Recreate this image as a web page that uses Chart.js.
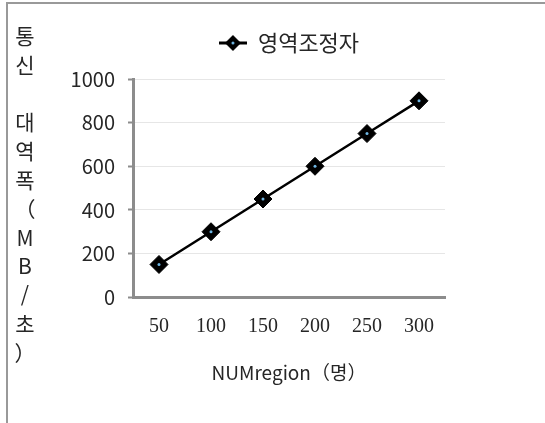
<!DOCTYPE html>
<html lang="ko">
<head>
<meta charset="utf-8">
<script src="https://cdn.jsdelivr.net/npm/chart.js@4.4.1/dist/chart.umd.min.js"></script>
<style>
  html, body { margin: 0; padding: 0; background: #fff; }
  #wrap { position: relative; width: 545px; height: 423px; }
  #frame {
    position: absolute; left: 6px; top: 2px; right: 0; bottom: 0;
    border-top: 2px solid #999; border-left: 2px solid #999;
    pointer-events: none;
  }
</style>
</head>
<body>
<div id="wrap">
  <canvas id="bwChart" width="545" height="423"></canvas>
  <div id="frame"></div>
</div>
<script>
// data
const categories = ['50', '100', '150', '200', '250', '300'];
const bandwidth = [150, 300, 450, 600, 750, 900];
const seriesName = '영역조정자';
const yTicks = [0, 200, 400, 600, 800, 1000];
const yTitle = '통신 대역폭（MB/초）';
const xTitle = 'NUMregion（명）';

const sansFont = "'Noto Sans CJK KR', 'Noto Sans', sans-serif";
const serifFont = "'Liberation Serif', 'DejaVu Serif', serif";
const textColor = '#262626';
const axisColor = '#8c8c8c';
const dotColor = '#6fb6e3';

// legend marker: short line with diamond, like the office chart
function makeLegendMarker() {
    const c = document.createElement('canvas');
    c.width = 28;
    c.height = 20;
    const ctx = c.getContext('2d');
    ctx.strokeStyle = '#000';
    ctx.lineWidth = 3;
    ctx.beginPath();
    ctx.moveTo(0, 10);
    ctx.lineTo(28, 10);
    ctx.stroke();
    ctx.fillStyle = '#000';
    ctx.beginPath();
    ctx.moveTo(14 - 8, 10);
    ctx.lineTo(14, 10 - 8);
    ctx.lineTo(14 + 8, 10);
    ctx.lineTo(14, 10 + 8);
    ctx.closePath();
    ctx.fill();
    ctx.fillStyle = dotColor;
    ctx.beginPath();
    ctx.arc(14, 10, 1.5, 0, Math.PI * 2);
    ctx.fill();
    return c;
}

// vertical stacked y axis title, one character per line
const stackedTitle = {
    id: 'stackedTitle',
    afterDraw(chart) {
        const ctx = chart.ctx;
        ctx.save();
        ctx.font = '21px ' + sansFont;
        ctx.fillStyle = textColor;
        ctx.textAlign = 'center';
        ctx.textBaseline = 'middle';
        Array.from(yTitle).forEach((ch, i) => {
            ctx.fillText(ch, 25, 36 + i * 28.8);
        });
        ctx.restore();
    }
};

// extra room under the legend
const legendGap = {
    id: 'legendGap',
    beforeInit(chart) {
        const fit = chart.legend.fit;
        chart.legend.fit = function () {
            fit.bind(chart.legend)();
            this.height += 15;
        };
    }
};

const chart = new Chart(document.getElementById('bwChart'), {
    type: 'line',
    data: {
        labels: categories,
        datasets: [{
            label: seriesName,
            data: bandwidth,
            order: 1,
            borderColor: '#000',
            borderWidth: 2.5,
            backgroundColor: '#000',
            pointStyle: 'rectRot',
            pointRadius: 9,
            pointBorderWidth: 1,
            pointBorderColor: '#000',
            pointBackgroundColor: '#000',
            tension: 0
        }, {
            label: 'dot',
            data: bandwidth,
            order: 0,
            showLine: false,
            pointStyle: 'circle',
            pointRadius: 1.5,
            pointBorderWidth: 0,
            pointBackgroundColor: dotColor
        }]
    },
    options: {
        responsive: false,
        animation: false,
        events: [],
        layout: {
            padding: { top: 22, left: 33, right: 100, bottom: 35 }
        },
        scales: {
            x: {
                type: 'category',
                offset: true,
                grid: { display: false, drawTicks: false },
                border: { display: true, color: axisColor, width: 3 },
                ticks: {
                    color: textColor,
                    padding: 18,
                    font: { family: serifFont, size: 20 }
                },
                title: {
                    display: true,
                    text: xTitle,
                    color: textColor,
                    font: { family: sansFont, size: 19 },
                    padding: { top: 4, bottom: 4 }
                }
            },
            y: {
                min: yTicks[0],
                max: yTicks[yTicks.length - 1],
                afterBuildTicks(scale) {
                    scale.ticks = yTicks.map(v => ({ value: v }));
                },
                afterFit(scale) {
                    scale.width = 100;
                },
                grid: {
                    color: '#e6e6e6',
                    lineWidth: 1,
                    drawTicks: true,
                    tickLength: 5,
                    tickColor: axisColor,
                    tickWidth: 2
                },
                border: { display: true, color: axisColor, width: 3 },
                ticks: {
                    color: textColor,
                    padding: 13,
                    font: { family: sansFont, size: 20 },
                    callback: value => String(value)
                }
            }
        },
        plugins: {
            legend: {
                position: 'top',
                fullSize: false,
                labels: {
                    usePointStyle: true,
                    pointStyle: makeLegendMarker(),
                    pointStyleWidth: 28,
                    padding: 10,
                    color: textColor,
                    font: { family: sansFont, size: 22 },
                    filter: item => item.datasetIndex === 0
                }
            },
            tooltip: { enabled: false }
        }
    },
    plugins: [legendGap, stackedTitle]
});
</script>
</body>
</html>
